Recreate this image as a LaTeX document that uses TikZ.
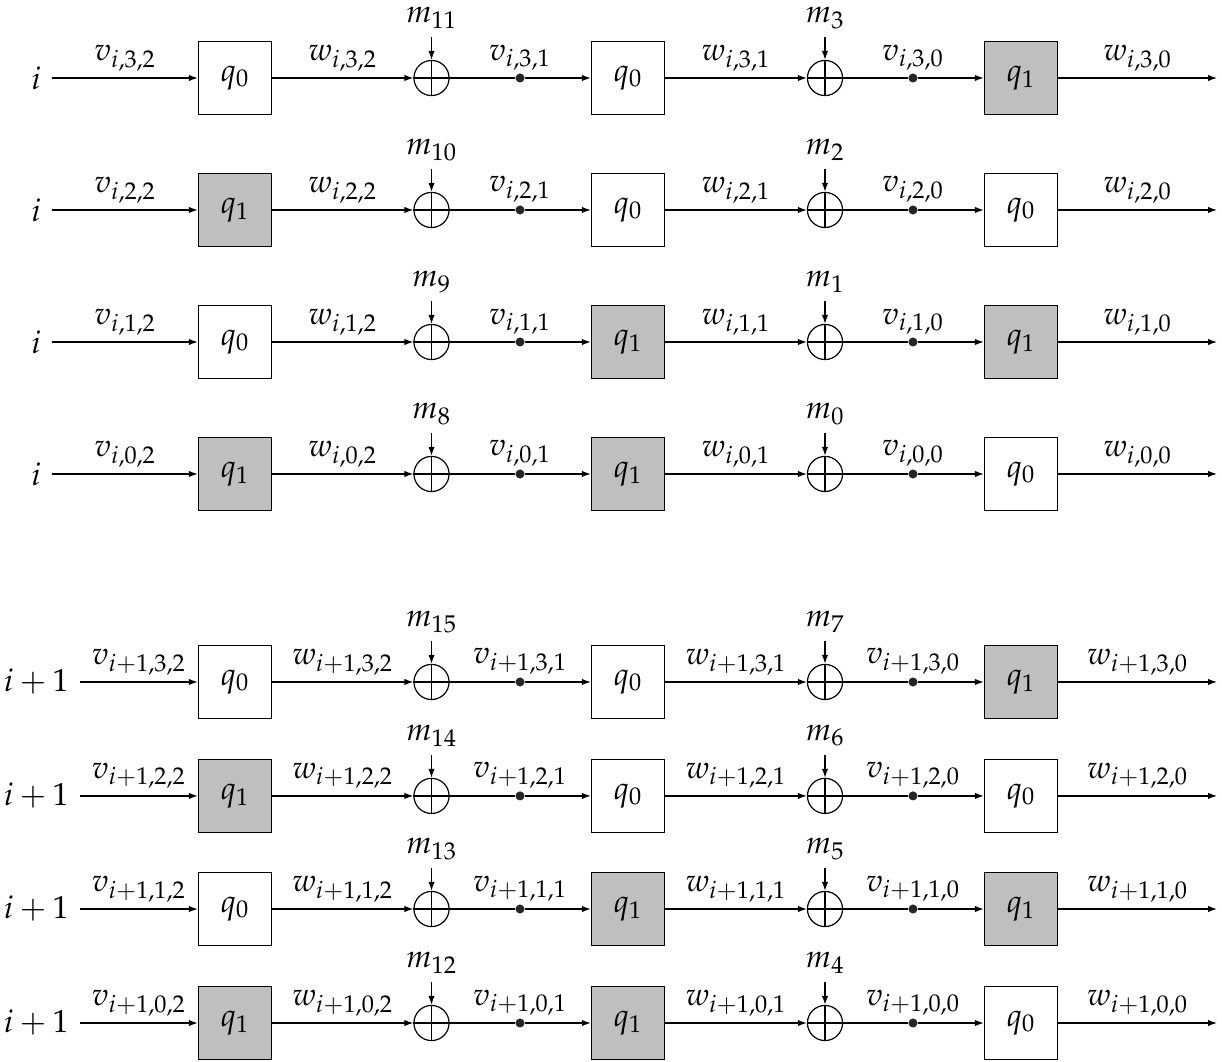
\documentclass[tikz,border=0pt]{standalone}
\usepackage{mathpazo}
\usetikzlibrary{arrows.meta}
\colorlet{qfill0}{white}
\colorlet{qfill1}{lightgray}
\tikzset{
  qbox/.style={draw, minimum size=1.29cm, inner sep=0pt},
  xorsum/.style={draw, circle, minimum size=.62cm, inner sep=0pt},
  tap/.style={circle, fill=black!85, inner sep=0pt, minimum size=.16cm},
}
\begin{document}
\begin{tikzpicture}[>={Latex[length=4.5pt,width=3.2pt]}, line width=.6pt, font=\fontsize{16}{19}\selectfont]
\useasboundingbox (0,0) rectangle (21.556,-18.733);

% one row per line: row/y/input/j/boxes/keys
\foreach \r/\y/\lab/\j/\ka/\kb/\kc/\ma/\mb in {
   1/-1.376/i/3/0/0/1/11/3,
   2/-3.704/i/2/1/0/0/10/2,
   3/-6.033/i/1/0/1/1/9/1,
   4/-8.361/i/0/1/1/0/8/0,
   5/-12.03/i+1/3/0/0/1/15/7,
   6/-14.04/i+1/2/1/0/0/14/6,
   7/-16.035/i+1/1/0/1/1/13/5,
   8/-18.046/i+1/0/1/1/0/12/4}
{
   \node[inner xsep=.19cm] (in\r) at (.64,\y) {$\lab$};
   \node[qbox, fill=qfill\ka] (b1\r) at (4.145,\y) {$q_\ka$};
   \node[xorsum] (x1\r) at (7.612,\y) {};
   \node[tap, label={[label distance=-2.2pt]above:$v_{\lab,\j,1}$}] (d1\r) at (9.173,\y) {};
   \node[qbox, fill=qfill\kb] (b2\r) at (11.078,\y) {$q_\kb$};
   \node[xorsum] (x2\r) at (14.553,\y) {};
   \node[tap, label={[label distance=-2.2pt]above:$v_{\lab,\j,0}$}] (d2\r) at (16.105,\y) {};
   \node[qbox, fill=qfill\kc] (b3\r) at (18.01,\y) {$q_\kc$};
   \coordinate (out\r) at (21.468,\y);

   \draw (x1\r.north)--(x1\r.south) (x1\r.west)--(x1\r.east);
   \draw (x2\r.north)--(x2\r.south) (x2\r.west)--(x2\r.east);

   \draw [->](in\r)-- node[above]{$v_{\lab,\j,2}$} (b1\r);
   \draw [->](b1\r)-- node[above]{$w_{\lab,\j,2}$} (x1\r);
   \draw [->](x1\r)--(d1\r)--(b2\r);
   \draw [->](b2\r)-- node[above]{$w_{\lab,\j,1}$} (x2\r);
   \draw [->](x2\r)--(d2\r)--(b3\r);
   \draw [->](b3\r)-- node[above]{$w_{\lab,\j,0}$} (out\r);

   \node[above, inner sep=4pt] (ma\r) at (7.612,\y+.723) {$m_{\ma}$};
   \node[above, inner sep=4pt] (mb\r) at (14.553,\y+.723) {$m_{\mb}$};
   \draw [->](ma\r)--(x1\r);
   \draw [->](mb\r)--(x2\r);
}
\end{tikzpicture}
\end{document}
